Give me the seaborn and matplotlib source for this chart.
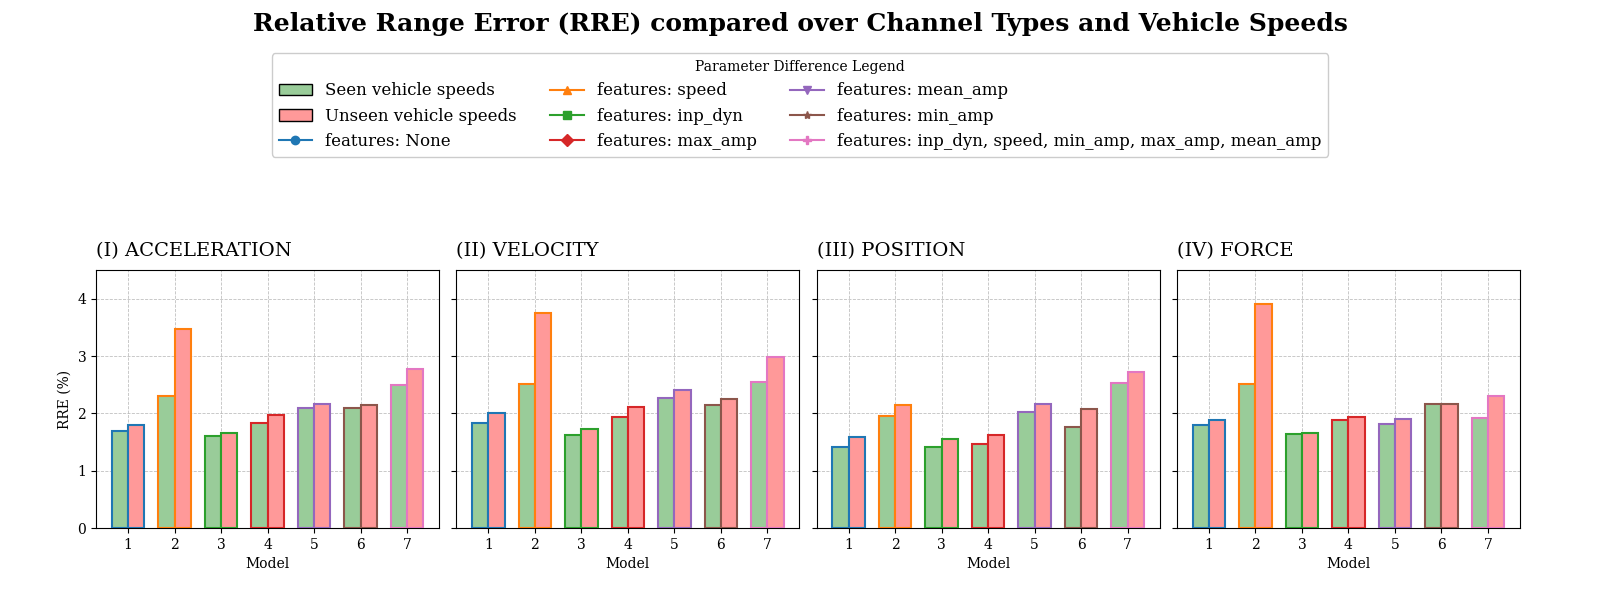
import pandas as pd
import matplotlib.pyplot as plt
from matplotlib.patches import Patch
from matplotlib.lines import Line2D
from matplotlib.ticker import MultipleLocator
import seaborn as sns

plt.rcParams['font.family'] = ['DejaVu Serif']

models = [1, 2, 3, 4, 5, 6, 7]
panels = ["(I) ACCELERATION", "(II) VELOCITY", "(III) POSITION", "(IV) FORCE"]

# RRE (%) per model, seen / unseen vehicle speeds
acc_seen = [1.69, 2.30, 1.60, 1.84, 2.09, 2.09, 2.49]
acc_unseen = [1.79, 3.47, 1.65, 1.97, 2.17, 2.14, 2.77]
vel_seen = [1.83, 2.51, 1.63, 1.93, 2.27, 2.14, 2.54]
vel_unseen = [2.00, 3.75, 1.72, 2.11, 2.41, 2.25, 2.98]
pos_seen = [1.41, 1.95, 1.42, 1.47, 2.02, 1.76, 2.53]
pos_unseen = [1.58, 2.14, 1.56, 1.63, 2.16, 2.07, 2.72]
frc_seen = [1.80, 2.51, 1.64, 1.88, 1.81, 2.17, 1.92]
frc_unseen = [1.88, 3.91, 1.65, 1.94, 1.90, 2.17, 2.31]

seen = [acc_seen, vel_seen, pos_seen, frc_seen]
unseen = [acc_unseen, vel_unseen, pos_unseen, frc_unseen]

features = ["None", "speed", "inp_dyn", "max_amp", "mean_amp", "min_amp",
            "inp_dyn, speed, min_amp, max_amp, mean_amp"]
markers = ["o", "^", "s", "D", "v", "*", "P"]
edge_colors = ["tab:blue", "tab:orange", "tab:green", "tab:red",
               "tab:purple", "tab:brown", "tab:pink"]
fill = {"Seen": "#99cc99", "Unseen": "#ff9999"}

fig, axes = plt.subplots(1, 4, figsize=(16, 6), dpi=100, sharey=True)
fig.subplots_adjust(left=0.06, right=0.95, bottom=0.12, top=0.55, wspace=0.05)

for k, ax in enumerate(axes):
    df = pd.DataFrame({
        "Model": models * 2,
        "RRE": seen[k] + unseen[k],
        "Split": ["Seen"] * 7 + ["Unseen"] * 7,
    })
    sns.barplot(data=df, x="Model", y="RRE", hue="Split", palette=fill,
                saturation=1, width=0.7, linewidth=1.5, legend=False, ax=ax,
                zorder=3)
    for cont in ax.containers:
        for i, p in enumerate(cont):
            p.set_edgecolor(edge_colors[i])
    ax.set_ylim(0, 4.5)
    ax.yaxis.set_major_locator(MultipleLocator(1))
    ax.set_xlim(-0.69, 6.69)
    ax.grid(True, linestyle="--", linewidth=0.6, alpha=0.8, zorder=0)
    ax.set_axisbelow(True)
    ax.set_xlabel("Model", fontsize=10)
    ax.set_ylabel("RRE (%)" if k == 0 else "", fontsize=10)
    ax.set_title(panels[k], loc="left", fontsize=14, pad=10)
    ax.tick_params(labelsize=10)

handles = [Patch(facecolor=fill["Seen"], edgecolor="black", label="Seen vehicle speeds"),
           Patch(facecolor=fill["Unseen"], edgecolor="black", label="Unseen vehicle speeds")]
for f, m, c in zip(features, markers, edge_colors):
    handles.append(Line2D([0], [0], color=c, marker=m, markersize=6,
                          linewidth=1.5, label="features: " + f))

fig.legend(handles=handles, loc="upper center", bbox_to_anchor=(0.5, 0.925),
           ncol=3, fontsize=12, title="Parameter Difference Legend",
           title_fontsize=10, framealpha=1)
fig.suptitle("Relative Range Error (RRE) compared over Channel Types and Vehicle Speeds",
             fontsize=18, fontweight="bold", y=0.98)

fig.savefig("out.png", dpi=100)
